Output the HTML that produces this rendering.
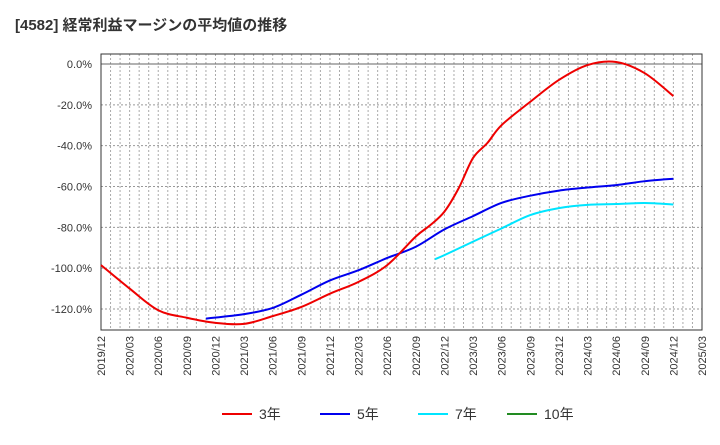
<!DOCTYPE html>
<html><head><meta charset="utf-8"><style>
body{margin:0;background:#fff;width:720px;height:440px;overflow:hidden;font-family:"Liberation Sans","Noto Sans CJK JP",sans-serif}
svg text{font-family:"Liberation Sans","Noto Sans CJK JP",sans-serif}
</style></head><body>
<svg id="c" width="720" height="440">
<text x="15" y="30" font-size="15" font-weight="bold" fill="#333">[4582]  経常利益マージンの平均値の推移</text>
</svg>
<script>
const xLabels=["2019/12","2020/03","2020/06","2020/09","2020/12","2021/03","2021/06","2021/09","2021/12","2022/03","2022/06","2022/09","2022/12","2023/03","2023/06","2023/09","2023/12","2024/03","2024/06","2024/09","2024/12","2025/03"];
const yTicks=[0,-20,-40,-60,-80,-100,-120];
const red3Months=[0,3,6,9,12,15,18,21,24,27,30,33,34.5,36,37.5,39,40.5,42,45,48,51,54,57,60];
const red3=[-98.5,-110,-120.6,-124.3,-126.8,-127.3,-123.5,-119,-112.5,-106.7,-98.5,-84.5,-79,-72.3,-60.8,-46,-38.7,-29.9,-18.5,-7.8,-0.5,1,-4.5,-15.7];
const blue5Months=[11,15,18,21,24,27,30,33,36,39,42,45,48,51,54,57,60];
const blue5=[-124.7,-122.5,-119.5,-113,-106,-101,-95,-89.5,-81,-74.5,-68,-64.5,-62,-60.5,-59.3,-57.4,-56.2];
const cyan7Months=[35,36,39,42,45,48,51,54,57,60];
const cyan7=[-95.6,-93.6,-87,-80.5,-74,-70.6,-69,-68.6,-68.1,-68.8];
const L=101,R=702,T=54,B=330;
const X=m=>L+(R-L)*m/63;
const Y=v=>64+(-v)*(245/120);
const svg=document.getElementById('c');
const NS='http://www.w3.org/2000/svg';
function mk(t,a){const e=document.createElementNS(NS,t);for(const k in a)e.setAttribute(k,a[k]);svg.appendChild(e);return e;}
const plot=mk('rect',{x:L,y:T,width:R-L,height:B-T,fill:'#fff',stroke:'none'});


for(let m=1;m<63;m++){const g=mk('line',{x1:X(m),x2:X(m),y1:T,y2:B,stroke:'#aaa','stroke-dasharray':'2,2','stroke-width':1});

}
yTicks.forEach(v=>{const g=mk('line',{x1:L,x2:R,y1:Y(v),y2:Y(v),stroke:v===0?'#666':'#999','stroke-dasharray':v===0?'none':'2,2','stroke-width':1});


const t=mk('text',{x:92,y:Y(v)+4,'font-size':11,'text-anchor':'end',fill:'#333'});t.textContent=v.toFixed(1)+'%';

});
const frame=mk('rect',{x:L,y:T,width:R-L,height:B-T,fill:'none',stroke:'#333','stroke-width':1});


xLabels.forEach((s,i)=>{const x=X(i*3);const t=mk('text',{x:0,y:0,'font-size':11,'text-anchor':'end',fill:'#333',transform:`translate(${x+4},${B+6}) rotate(-90)`});t.textContent=s;

});
function path(ms,vs){const p=ms.map((m,i)=>[X(m),Y(vs[i])]);let d=`M${p[0][0]},${p[0][1]}`;
for(let i=0;i<p.length-1;i++){const p0=p[i-1]||p[i],p1=p[i],p2=p[i+1],p3=p[i+2]||p2;
d+=`C${p1[0]+(p2[0]-p0[0])/6},${p1[1]+(p2[1]-p0[1])/6} ${p2[0]-(p3[0]-p1[0])/6},${p2[1]-(p3[1]-p1[1])/6} ${p2[0]},${p2[1]}`;}return d;}
[[cyan7Months,cyan7,'#00e5ff','line-7yr'],[blue5Months,blue5,'#0000ee','line-5yr'],[red3Months,red3,'#ee0000','line-3yr']].forEach(s=>{
const e=mk('path',{d:path(s[0],s[1]),fill:'none',stroke:s[2],'stroke-width':2});

});
[[222,'#ee0000','3年','legend-3yr'],[320,'#0000ee','5年','legend-5yr'],[418,'#00e5ff','7年','legend-7yr'],[507,'#228b22','10年','legend-10yr']].forEach(l=>{
const g=mk('line',{x1:l[0],x2:l[0]+30,y1:414,y2:414,stroke:l[1],'stroke-width':2});


const t=mk('text',{x:l[0]+37,y:419,'font-size':14,fill:'#333'});t.textContent=l[2];

});
</script>
</body></html>
